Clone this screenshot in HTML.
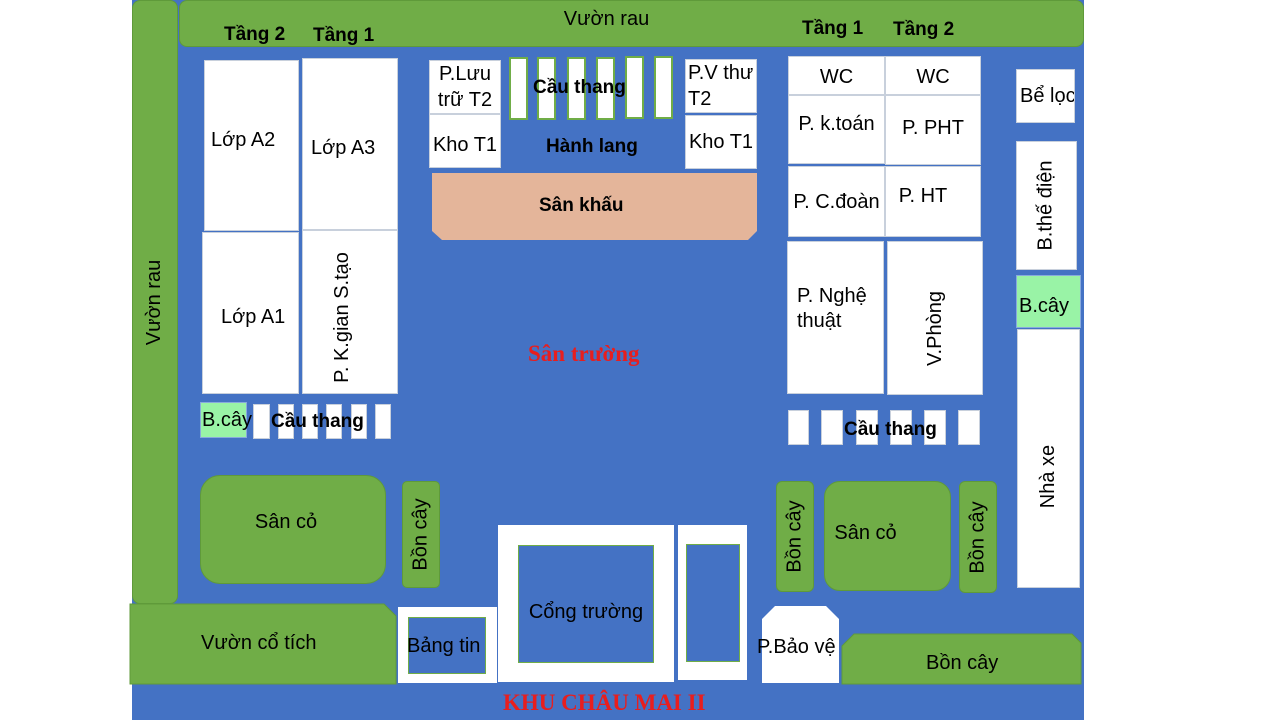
<!DOCTYPE html>
<html><head><meta charset="utf-8"><style>
body{margin:0;width:1280px;height:720px;background:#fff;position:relative;overflow:hidden;font-family:"Liberation Sans","DejaVu Sans",sans-serif;font-size:20px;color:#000}
.b{position:absolute;box-sizing:border-box;display:flex;align-items:center;justify-content:center;text-align:center;line-height:1.25}
.w{background:#fff;border:1px solid #c8d0dc}
.g{background:#70AD47;border:1px solid #5f9a3a}
.lg{background:#99F3A6;border:1px solid #8ad}
.st{background:#fff;border:2px solid #70AD47}
.bold{font-weight:bold;font-size:19px}
.rot{transform:rotate(-90deg);white-space:nowrap}
.t{position:absolute;white-space:nowrap}
</style></head><body>
<div class="b" style="left:132px;top:0;width:952px;height:720px;background:#4472C4"></div>

<div class="b g" style="left:132px;top:0;width:46px;height:604px;border-radius:8px"><span class="rot">Vườn rau</span></div>
<div class="b g" style="left:179px;top:0;width:905px;height:47px;border-radius:8px;align-items:flex-start;padding-top:6px;padding-right:50px">Vườn rau</div>

<div class="t bold" style="left:224px;top:24px">Tầng 2</div>
<div class="t bold" style="left:313px;top:25px">Tầng 1</div>
<div class="t bold" style="left:802px;top:18px">Tầng 1</div>
<div class="t bold" style="left:893px;top:19px">Tầng 2</div>

<div class="b w" style="left:204px;top:60px;width:95px;height:171px;padding-bottom:10px;justify-content:flex-start;padding-left:6px">Lớp A2</div>
<div class="b w" style="left:302px;top:58px;width:96px;height:172px;padding-top:8px;justify-content:flex-start;padding-left:8px">Lớp A3</div>
<div class="b w" style="left:202px;top:232px;width:97px;height:162px;padding-top:8px;justify-content:flex-start;padding-left:18px">Lớp A1</div>
<div class="b w" style="left:302px;top:230px;width:96px;height:164px"><span class="rot" style="margin-left:-16px;margin-top:10px">P. K.gian S.tạo</span></div>

<div class="b lg" style="left:200px;top:402px;width:47px;height:36px;justify-content:flex-start;padding-left:1px">B.cây</div>
<div class="b w" style="left:253px;top:404px;width:17px;height:35px"></div>
<div class="b w" style="left:278px;top:404px;width:16px;height:35px"></div>
<div class="b w" style="left:302px;top:404px;width:16px;height:35px"></div>
<div class="b w" style="left:326px;top:404px;width:16px;height:35px"></div>
<div class="b w" style="left:351px;top:404px;width:16px;height:35px"></div>
<div class="b w" style="left:375px;top:404px;width:16px;height:35px"></div>
<div class="t bold" style="left:271px;top:411px">Cầu thang</div>

<div class="b g" style="left:200px;top:475px;width:186px;height:109px;border-radius:20px;padding-bottom:14px;padding-right:14px">Sân cỏ</div>
<div class="b g" style="left:402px;top:481px;width:38px;height:107px;border-radius:5px"><span class="rot">Bồn cây</span></div>

<svg style="position:absolute;left:0;top:0" width="1280" height="720">
<polygon points="130,604 384,604 396,616 396,684 130,684" fill="#70AD47" stroke="#5f9a3a"/>
<polygon points="432,173 757,173 757,231 748,240 442,240 432,231" fill="#E4B59A"/>
<polygon points="775,606 826,606 839,619 839,683 762,683 762,619" fill="#fff"/>
<polygon points="854,634 1072,634 1081,643 1081,684 842,684 842,646" fill="#70AD47" stroke="#5f9a3a"/>
</svg>
<div class="t" style="left:201px;top:632px">Vườn cổ tích</div>

<div class="b" style="left:398px;top:607px;width:99px;height:76px;background:#fff"></div>
<div class="b" style="left:408px;top:617px;width:78px;height:57px;background:#4472C4;border:1px solid #70AD47"></div>
<div class="t" style="left:407px;top:635px">Bảng tin</div>

<div class="b" style="left:498px;top:525px;width:176px;height:157px;background:#fff"></div>
<div class="b" style="left:518px;top:545px;width:136px;height:118px;background:#4472C4;border:1px solid #70AD47;padding-top:16px">Cổng trường</div>
<div class="b" style="left:678px;top:525px;width:69px;height:155px;background:#fff"></div>
<div class="b" style="left:686px;top:544px;width:54px;height:118px;background:#4472C4;border:1px solid #70AD47"></div>

<div class="t" style="left:757px;top:636px">P.Bảo vệ</div>
<div class="t" style="left:926px;top:652px">Bồn cây</div>

<div class="t" style="left:503px;top:690px;font-family:'Liberation Serif',serif;font-weight:bold;color:#E81E1E;font-size:23px">KHU CHÂU MAI II</div>
<div class="t" style="left:528px;top:341px;font-family:'Liberation Serif',serif;font-weight:bold;color:#E81E1E;font-size:23px">Sân trường</div>

<div class="b w" style="left:429px;top:60px;width:72px;height:54px;align-items:flex-start;line-height:1.3">P.Lưu<br>trữ T2</div>
<div class="b w" style="left:429px;top:114px;width:72px;height:54px;padding-top:8px">Kho T1</div>
<div class="b st" style="left:509px;top:57px;width:19px;height:63px"></div>
<div class="b st" style="left:537px;top:57px;width:19px;height:63px"></div>
<div class="b st" style="left:567px;top:57px;width:19px;height:63px"></div>
<div class="b st" style="left:596px;top:57px;width:19px;height:63px"></div>
<div class="b st" style="left:625px;top:56px;width:19px;height:63px"></div>
<div class="b st" style="left:654px;top:56px;width:19px;height:63px"></div>
<div class="t bold" style="left:533px;top:77px">Cầu thang</div>
<div class="t bold" style="left:546px;top:136px">Hành lang</div>
<div class="b w" style="left:685px;top:59px;width:72px;height:54px;align-items:flex-start;justify-content:flex-start;padding-left:2px;line-height:1.3;text-align:left">P.V thư<br>T2</div>
<div class="b w" style="left:685px;top:115px;width:72px;height:54px">Kho T1</div>
<div class="t bold" style="left:539px;top:195px">Sân khấu</div>

<div class="b w" style="left:788px;top:56px;width:97px;height:39px;padding-top:4px">WC</div>
<div class="b w" style="left:885px;top:56px;width:96px;height:39px;padding-top:4px">WC</div>
<div class="b w" style="left:788px;top:95px;width:97px;height:69px;padding-bottom:10px">P. k.toán</div>
<div class="b w" style="left:885px;top:95px;width:96px;height:70px;padding-bottom:4px">P. PHT</div>
<div class="b w" style="left:788px;top:166px;width:97px;height:71px;padding-top:2px">P. C.đoàn</div>
<div class="b w" style="left:885px;top:166px;width:96px;height:71px;padding-bottom:10px;padding-right:20px">P. HT</div>
<div class="b w" style="left:787px;top:241px;width:97px;height:153px;justify-content:flex-start;padding-left:9px;text-align:left;padding-bottom:18px">P. Nghệ<br>thuật</div>
<div class="b w" style="left:887px;top:241px;width:96px;height:154px"><span class="rot" style="margin-top:20px">V.Phòng</span></div>

<div class="b w" style="left:788px;top:410px;width:21px;height:35px"></div>
<div class="b w" style="left:821px;top:410px;width:22px;height:35px"></div>
<div class="b w" style="left:856px;top:410px;width:22px;height:35px"></div>
<div class="b w" style="left:890px;top:410px;width:22px;height:35px"></div>
<div class="b w" style="left:924px;top:410px;width:22px;height:35px"></div>
<div class="b w" style="left:958px;top:410px;width:22px;height:35px"></div>
<div class="t bold" style="left:844px;top:419px">Cầu thang</div>

<div class="b g" style="left:776px;top:481px;width:38px;height:111px;border-radius:6px"><span class="rot">Bồn cây</span></div>
<div class="b g" style="left:824px;top:481px;width:127px;height:110px;border-radius:16px;padding-bottom:6px;padding-right:44px">Sân cỏ</div>
<div class="b g" style="left:959px;top:481px;width:38px;height:112px;border-radius:6px"><span class="rot">Bồn cây</span></div>

<div class="b w" style="left:1016px;top:69px;width:59px;height:54px;justify-content:flex-start;padding-left:3px;white-space:nowrap;overflow:hidden">Bể lọc</div>
<div class="b w" style="left:1016px;top:141px;width:61px;height:129px"><span class="rot">B.thế điện</span></div>
<div class="b lg" style="left:1016px;top:275px;width:65px;height:53px;justify-content:flex-start;padding-left:2px;padding-top:10px">B.cây</div>
<div class="b w" style="left:1017px;top:329px;width:63px;height:259px;padding-top:36px"><span class="rot">Nhà xe</span></div>
</body></html>
